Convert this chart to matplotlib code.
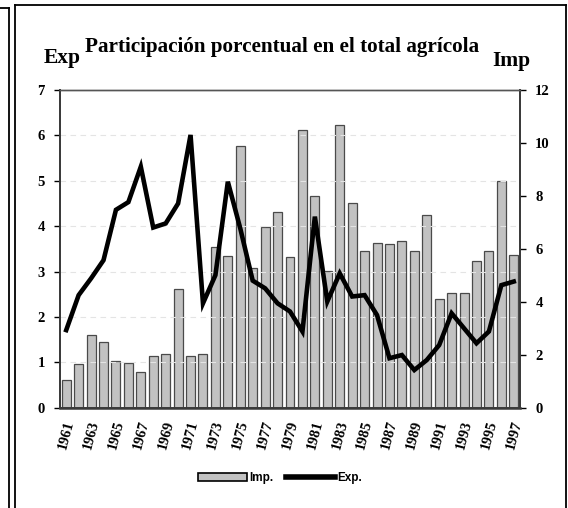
import matplotlib
matplotlib.use("Agg")
import matplotlib.pyplot as plt
from matplotlib.lines import Line2D
from matplotlib.patches import Patch
import numpy as np

years = list(range(1961, 1998))
exp_vals = [1.71, 2.48, 2.85, 3.25, 4.36, 4.53, 5.31, 3.97, 4.06, 4.50,
            6.01, 2.30, 2.92, 4.98, 3.95, 2.80, 2.63, 2.30, 2.12, 1.68,
            4.21, 2.34, 2.96, 2.45, 2.48, 2.04, 1.09, 1.16, 0.83, 1.05,
            1.38, 2.08, 1.75, 1.42, 1.68, 2.70, 2.78]
imp_vals = [1.05, 1.64, 2.75, 2.47, 1.76, 1.68, 1.36, 1.96, 2.04, 4.48,
            1.96, 2.01, 6.08, 5.73, 9.90, 5.29, 6.81, 7.41, 5.71, 10.49,
            8.00, 5.15, 10.68, 7.72, 5.93, 6.21, 6.17, 6.30, 5.93, 7.28,
            4.11, 4.32, 4.32, 5.55, 5.93, 8.58, 5.77]
left_ticks = [0, 1, 2, 3, 4, 5, 6, 7]
right_ticks = [0, 2, 4, 6, 8, 10, 12]
year_labels = [str(y) for y in years[::2]]

title = "Participación porcentual en el total agrícola"

serif = ["Liberation Serif", "DejaVu Serif"]

fig = plt.figure(figsize=(5.68, 5.08), dpi=100)
ax = fig.add_axes([60/568, 1-407.7/508, 460/568, 317.7/508])
ax2 = ax.twinx()
ax.set_zorder(ax2.get_zorder() + 1)
ax.patch.set_visible(False)
ax2.patch.set_facecolor("white")

x = np.arange(len(years))
ax2.bar(x, imp_vals, width=0.72, color="#c2c2c2", edgecolor="#4a4a4a",
        linewidth=0.9, zorder=2)
ax.plot(x, exp_vals, color="black", linewidth=3.3, solid_joinstyle="miter",
        zorder=5)

ax.set_xlim(-0.5, len(years) - 0.5)
ax.set_ylim(0, 7)
ax2.set_ylim(0, 12)
ax.set_yticks(left_ticks)
ax2.set_yticks(right_ticks)

for lv in left_ticks[1:-1]:
    ax.axhline(lv, color="#e4e4e4", linewidth=0.8, linestyle=(0, (5, 4)),
               zorder=0)

ax.set_xticks(x[::2])
ax.set_xticklabels(year_labels, rotation=75, fontsize=10.5, fontweight="bold",
                   family=serif, ha="center", va="top")
ax.tick_params(axis="x", length=0, pad=8)
ax.tick_params(axis="y", length=4, width=1, direction="out", pad=7,
               labelsize=10.5)
ax2.tick_params(axis="y", length=4, width=1, direction="out", pad=7,
                labelsize=10.5)
for lab in ax.get_yticklabels() + ax2.get_yticklabels():
    lab.set_fontweight("bold")
    lab.set_family(serif)

for a in (ax, ax2):
    for s in ("left", "right", "bottom"):
        a.spines[s].set_color("#3a3a3a")
        a.spines[s].set_linewidth(1.3)
    a.spines["top"].set_color("#555555")
    a.spines["top"].set_linewidth(1.0)
ax.spines["bottom"].set_linewidth(1.8)

fig.text(85/568, 1-47/508, title, family=serif, fontweight="bold",
         fontsize=15.2, ha="left", va="center")
fig.text(44/568, 1-58/508, "Exp", family=serif, fontweight="bold",
         fontsize=15.5, ha="left", va="center")
fig.text(492/568, 1-61/508, "Imp", family=serif, fontweight="bold",
         fontsize=15.5, ha="left", va="center")

handles = [Patch(facecolor="#c2c2c2", edgecolor="black", linewidth=1.2),
           Line2D([0], [0], color="black", linewidth=4)]
fig.legend(handles, ["Imp.", "Exp."], loc="center",
           bbox_to_anchor=(280/568, 1-478/508), ncol=2, frameon=False,
           handlelength=4.2, handleheight=0.6, handletextpad=0.2,
           columnspacing=1.0,
           prop={"family": ["Liberation Sans", "DejaVu Sans"],
                 "weight": "bold", "size": 8.5})

# outer frames
frame_kw = dict(color="black", linewidth=1.3, transform=fig.transFigure)
fig.add_artist(Line2D([15/568, 15/568], [0, 1-5/508], **frame_kw))
fig.add_artist(Line2D([15/568, 566/568], [1-5/508, 1-5/508], **frame_kw))
fig.add_artist(Line2D([566/568, 566/568], [0, 1-5/508], **frame_kw))
fig.add_artist(Line2D([9/568, 9/568], [0, 1-8/508], **frame_kw))
fig.add_artist(Line2D([0, 9/568], [1-8/508, 1-8/508], **frame_kw))

fig.savefig("out.png", dpi=100)
